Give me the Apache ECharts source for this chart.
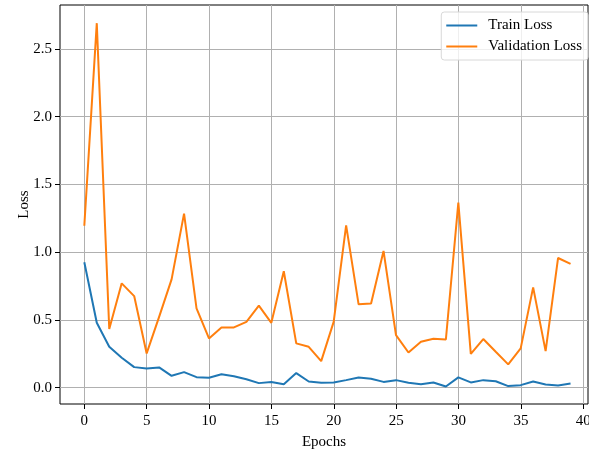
<!DOCTYPE html>
<html>
<head>
<meta charset="utf-8">
<script src="https://cdn.jsdelivr.net/npm/echarts@6/dist/echarts.min.js"></script>
<style>
  html, body { margin: 0; padding: 0; background: #fff; }
  #main { width: 589px; height: 450px; }
</style>
</head>
<body>
<div id="main"></div>
<script>
	// 每个 epoch 的损失值
	var epochs = [];
	for (var i = 0; i < 40; i++) epochs.push(i);

	var trainLoss = [0.926, 0.48, 0.303, 0.222, 0.153, 0.143, 0.151, 0.089, 0.116, 0.079,
		0.074, 0.101, 0.086, 0.064, 0.035, 0.044, 0.027, 0.109, 0.047, 0.037,
		0.040, 0.057, 0.077, 0.067, 0.044, 0.057, 0.037, 0.027, 0.040, 0.010,
		0.077, 0.040, 0.057, 0.049, 0.013, 0.020, 0.047, 0.025, 0.018, 0.032];

	var valLoss = [1.196, 2.69, 0.434, 0.771, 0.677, 0.254, 0.524, 0.80, 1.285, 0.586,
		0.365, 0.446, 0.446, 0.487, 0.606, 0.48, 0.86, 0.328, 0.303, 0.197,
		0.487, 1.199, 0.616, 0.623, 1.01, 0.389, 0.261, 0.34, 0.362, 0.357,
		1.366, 0.251, 0.36, 0.266, 0.173, 0.291, 0.741, 0.271, 0.958, 0.914];

	var seriesNames = ['Train Loss', 'Validation Loss'];
	var xTicks = [0, 40, 5];      // min, max, interval
	var yTicks = [0, 2.5, 0.5];

	function pairs(ys) {
		return ys.map(function(v, i) { return [epochs[i], v]; });
	}

	var font = 'Liberation Serif';
	var gridColor = '#b0b0b0';

	var chart = echarts.init(document.getElementById('main'));

	var option = {
		animation: false,
		color: ['#1f77b4', '#ff7f0e'],
		grid: [
			// 数据区
			{ left: 60, right: 1, top: 5, bottom: 46, show: true, borderColor: '#000', borderWidth: 1, backgroundColor: 'transparent', outerBoundsMode: 'none' },
			// x 刻度
			{ left: 84.3, right: 5.7, top: 5, bottom: 46, outerBoundsMode: 'none' },
			// y 刻度
			{ left: 60, right: 1, top: 49, bottom: 62.3, outerBoundsMode: 'none' }
		],
		xAxis: [
			{
				gridIndex: 0, type: 'value', min: -1.95, max: 40.4,
				axisLine: { show: false }, axisTick: { show: false }, axisLabel: { show: false }, splitLine: { show: false },
				name: 'Epochs', nameLocation: 'middle', nameGap: 31,
				nameTextStyle: { fontFamily: font, fontSize: 15, color: '#000' }
			},
			{
				gridIndex: 1, type: 'value', min: xTicks[0], max: xTicks[1], interval: xTicks[2],
				axisLine: { show: false },
				axisTick: { show: true, length: 5, lineStyle: { color: '#000' } },
				axisLabel: { fontFamily: font, fontSize: 15, color: '#000', margin: 10 },
				splitLine: { show: true, lineStyle: { color: gridColor, width: 1 } }
			},
			{
				gridIndex: 2, type: 'value', min: 0, max: 1, show: false
			}
		],
		yAxis: [
			{
				gridIndex: 0, type: 'value', min: -0.119, max: 2.824,
				axisLine: { show: false }, axisTick: { show: false }, axisLabel: { show: false }, splitLine: { show: false },
				name: 'Loss', nameLocation: 'middle', nameGap: 28,
				nameTextStyle: { fontFamily: font, fontSize: 15, color: '#000' }
			},
			{
				gridIndex: 1, type: 'value', min: 0, max: 1, show: false
			},
			{
				gridIndex: 2, type: 'value', min: yTicks[0], max: yTicks[1], interval: yTicks[2],
				axisLine: { show: false },
				axisTick: { show: true, length: 5, lineStyle: { color: '#000' } },
				axisLabel: {
					fontFamily: font, fontSize: 15, color: '#000', margin: 8,
					formatter: function(v) { return v.toFixed(1); }
				},
				splitLine: { show: true, lineStyle: { color: gridColor, width: 1 } }
			}
		],
		legend: {
			data: seriesNames,
			orient: 'vertical',
			right: 1,
			top: 12,
			icon: 'rect',
			itemWidth: 31,
			itemHeight: 2,
			itemGap: 6,
			padding: [6, 6, 6, 5],
			borderColor: '#d8d8d8',
			borderWidth: 1,
			borderRadius: 3,
			backgroundColor: 'rgba(255,255,255,0.8)',
			textStyle: { fontFamily: font, fontSize: 15, color: '#000', padding: [0, 0, 0, 6] }
		},
		series: [
			{
				name: seriesNames[0], type: 'line', xAxisIndex: 0, yAxisIndex: 0,
				data: pairs(trainLoss), showSymbol: false, lineStyle: { width: 2 }, z: 5
			},
			{
				name: seriesNames[1], type: 'line', xAxisIndex: 0, yAxisIndex: 0,
				data: pairs(valLoss), showSymbol: false, lineStyle: { width: 2 }, z: 5
			}
		]
	};

	chart.setOption(option);
</script>
</body>
</html>
